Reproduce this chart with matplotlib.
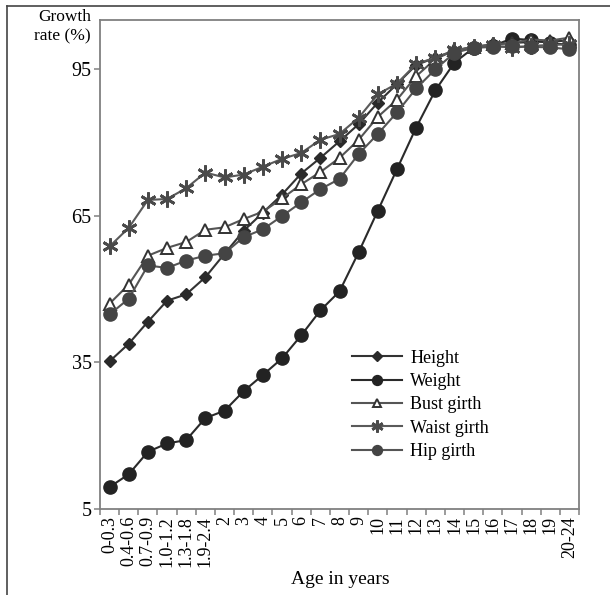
import numpy as np
import matplotlib
matplotlib.use('Agg')
import matplotlib.pyplot as plt
from matplotlib.lines import Line2D

plt.rcParams['font.family'] = ['Liberation Serif', 'DejaVu Serif']

# Age groups (x categories)
ages = ['0-0.3', '0.4-0.6', '0.7-0.9', '1.0-1.2', '1.3-1.8', '1.9-2.4',
        '2', '3', '4', '5', '6', '7', '8', '9', '10', '11', '12', '13',
        '14', '15', '16', '17', '18', '19', '20-24']

# Growth rate (%)
height = [35.2, 38.8, 43.3, 47.6, 48.9, 52.4, 57.2, 61.9, 65.6, 69.3,
          73.6, 76.8, 80.2, 83.7, 88.1, 91.9, 95.8, 97.3, 98.7, 99.5,
          100.0, 100.3, 100.5, 100.6, 100.8]
weight = [9.5, 12.1, 16.7, 18.4, 19.1, 23.6, 25.1, 29.1, 32.4, 35.8,
          40.5, 45.6, 49.5, 57.5, 66.0, 74.5, 83.0, 90.6, 96.3, 99.3,
          99.7, 101.2, 100.9, 100.3, 99.9]
bust = [47.0, 50.9, 56.8, 58.4, 59.6, 62.1, 62.6, 64.3, 65.8, 68.5,
        71.4, 73.9, 76.8, 80.5, 85.2, 88.7, 93.5, 97.0, 98.8, 99.5,
        100.0, 100.3, 101.0, 100.8, 101.4]
waist = [58.7, 62.5, 68.2, 68.4, 70.6, 73.8, 72.8, 73.4, 75.0, 76.6,
         77.8, 80.5, 81.7, 85.0, 89.8, 92.0, 96.0, 97.3, 98.8, 99.4,
         99.8, 99.3, 99.7, 99.9, 100.0]
hip = [44.8, 48.0, 54.8, 54.3, 55.8, 56.8, 57.3, 60.6, 62.2, 64.9,
       67.7, 70.4, 72.5, 77.6, 81.7, 86.1, 91.0, 94.9, 98.3, 99.3,
       99.5, 99.6, 99.5, 99.4, 99.0]

fig = plt.figure(figsize=(6.1, 5.95), dpi=100)
ax = fig.add_axes([100 / 610, 1 - 509 / 595, 479 / 610, 489 / 595])

x = np.arange(len(ages))
ax.plot(x, height, '-', color='#333333', lw=1.5, marker='D', ms=6.5,
        mfc='#2a2a2a', mec='#2a2a2a', label='Height')
ax.plot(x, weight, '-', color='#2a2a2a', lw=1.5, marker='o', ms=9.5,
        mfc='#232323', mec='#232323', label='Weight')
ax.plot(x, bust, '-', color='#555555', lw=1.5, marker='^', ms=8,
        mfc='white', mec='#333333', mew=1.4, label='Bust girth')
ax.plot(x, waist, '-', color='#5a5a5a', lw=1.5, marker=(6, 2, 0), ms=11.5,
        mec='#4a4a4a', mew=2.0, label='Waist girth')
ax.plot(x, hip, '-', color='#555555', lw=1.5, marker='o', ms=9.5,
        mfc='#444444', mec='#444444', label='Hip girth')

ax.set_xlim(-0.5, len(ages) - 0.5)
ax.set_ylim(5, 105)
ax.set_yticks([5, 35, 65, 95])
ax.set_xticks(x)
ax.set_xticklabels(ages, rotation=90)
ax.set_xticks(np.arange(-0.5, len(ages)), minor=True)

for s in ax.spines.values():
    s.set_color('#808080')
    s.set_linewidth(1.3)

ax.tick_params(axis='y', direction='out', length=4, width=1.1,
               color='#808080', labelsize=14.5, pad=2)
ax.tick_params(axis='x', which='major', length=0, labelsize=13, pad=5)
ax.tick_params(axis='x', which='minor', direction='out', length=4,
               width=1.1, color='#808080')

leg = ax.legend(loc='center left', bbox_to_anchor=(0.51, 0.213),
                frameon=False, fontsize=13, handlelength=2.8,
                handletextpad=0.45, labelspacing=0.35, borderaxespad=0,
                markerscale=0.75)

fig.text(91 / 610, 1 - 9 / 595, 'Growth\nrate (%)', ha='right', va='top',
         fontsize=12.5, linespacing=1.25)
fig.text(340 / 610, 1 - 579 / 595, 'Age in years', ha='center',
         va='center', fontsize=14)

# outer frame (left and top edges)
fig.add_artist(Line2D([7 / 610, 7 / 610], [0, 1 - 6 / 595],
                      color='#444444', lw=1.2))
fig.add_artist(Line2D([7 / 610, 1], [1 - 6 / 595, 1 - 6 / 595],
                      color='#444444', lw=1.2))

fig.savefig('out.png', dpi=100)
